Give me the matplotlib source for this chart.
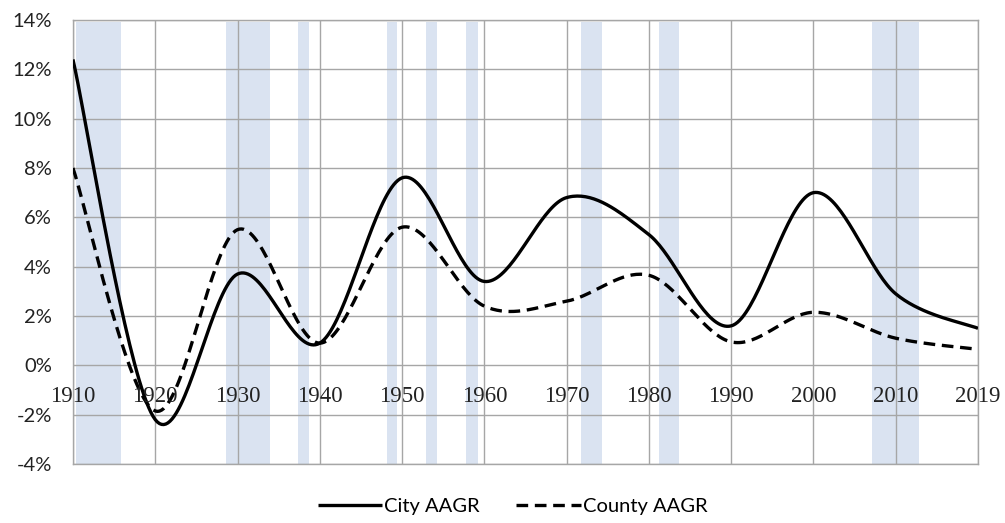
import numpy as np
import matplotlib.pyplot as plt
from matplotlib.transforms import blended_transform_factory, ScaledTranslation

# data points (decades, last one 2019) in percent
years = ['1910', '1920', '1930', '1940', '1950', '1960', '1970', '1980', '1990', '2000', '2010', '2019']
city = [12.4, -2.2, 3.7, 0.9, 7.6, 3.4, 6.8, 5.3, 1.6, 7.0, 2.9, 1.5]
county = [8.0, -1.85, 5.5, 0.9, 5.6, 2.4, 2.6, 3.65, 0.95, 2.15, 1.1, 0.65]

# shaded periods (start year, end year)
band_start = [1910.4, 1928.6, 1937.3, 1948.2, 1952.9, 1957.8, 1971.8, 1981.2, 2007.1]
band_end = [1915.8, 1933.9, 1938.7, 1949.4, 1954.2, 1959.2, 1974.3, 1983.7, 2012.6]

yticks = list(range(-4, 15, 2))


def smooth(xs, ys, n=40):
    # catmull-rom style bezier, like excel's smoothed line
    xs = np.asarray(xs, float)
    ys = np.asarray(ys, float)
    px = np.concatenate([[xs[0]], xs, [xs[-1]]])
    py = np.concatenate([[ys[0]], ys, [ys[-1]]])
    outx, outy = [], []
    t = np.linspace(0, 1, n)
    for i in range(1, len(px) - 2):
        p0 = np.array([px[i], py[i]])
        p3 = np.array([px[i + 1], py[i + 1]])
        p1 = p0 + (p3 - np.array([px[i - 1], py[i - 1]])) / 6
        p2 = p3 - (np.array([px[i + 2], py[i + 2]]) - p0) / 6
        b = ((1 - t) ** 3)[:, None] * p0 + (3 * (1 - t) ** 2 * t)[:, None] * p1 \
            + (3 * (1 - t) * t ** 2)[:, None] * p2 + (t ** 3)[:, None] * p3
        outx.extend(b[:, 0])
        outy.extend(b[:, 1])
    return np.array(outx), np.array(outy)


fig = plt.figure(figsize=(10.05, 5.23), dpi=100)
ax = fig.add_axes([0.0726, 0.1128, 0.9005, 0.849])

idx = np.arange(len(years))
year_num = [int(y) for y in years]

for s, e in zip(band_start, band_end):
    ax.axvspan(np.interp(s, year_num, idx), np.interp(e, year_num, idx),
               ymin=0.0, ymax=0.995, color='#dae3f1', lw=0, zorder=0.1)

cx, cy = smooth(idx, city)
dx, dy = smooth(idx, county)
ax.plot(cx, cy, color='black', lw=2.4, label='City AAGR', zorder=3, solid_capstyle='butt')
ax.plot(dx, dy, color='black', lw=2.4, ls=(0, (3.5, 2)), label='County AAGR', zorder=3)

ax.set_xlim(0, len(years) - 1)
ax.set_ylim(-4, 14)
ax.set_yticks(yticks)
ax.set_yticklabels([f'{v}%' for v in yticks], fontsize=14.5, family='Lato', color='#222222')
ax.set_xticks(idx)
ax.set_xticklabels([])
ax.tick_params(length=0, pad=15)
ax.set_axisbelow(True)
ax.grid(True, color='#a6a6a6', lw=1)
for sp in ax.spines.values():
    sp.set_color('#a6a6a6')
    sp.set_linewidth(1)

trans = blended_transform_factory(ax.transData, ax.transData) + ScaledTranslation(0, -15 / 72, fig.dpi_scale_trans)
for i, lab in enumerate(years):
    ax.text(i, 0, lab, ha='center', va='top', fontsize=16.5, family='Liberation Serif',
            color='#222222', transform=trans, zorder=4)

fig.legend(loc='lower center', bbox_to_anchor=(0.51, -0.02), ncol=2, frameon=False,
           handlelength=3.2, columnspacing=1.8, handletextpad=0.1,
           prop={'family': 'Lato', 'size': 14.5})

fig.savefig('out.png', dpi=100)
